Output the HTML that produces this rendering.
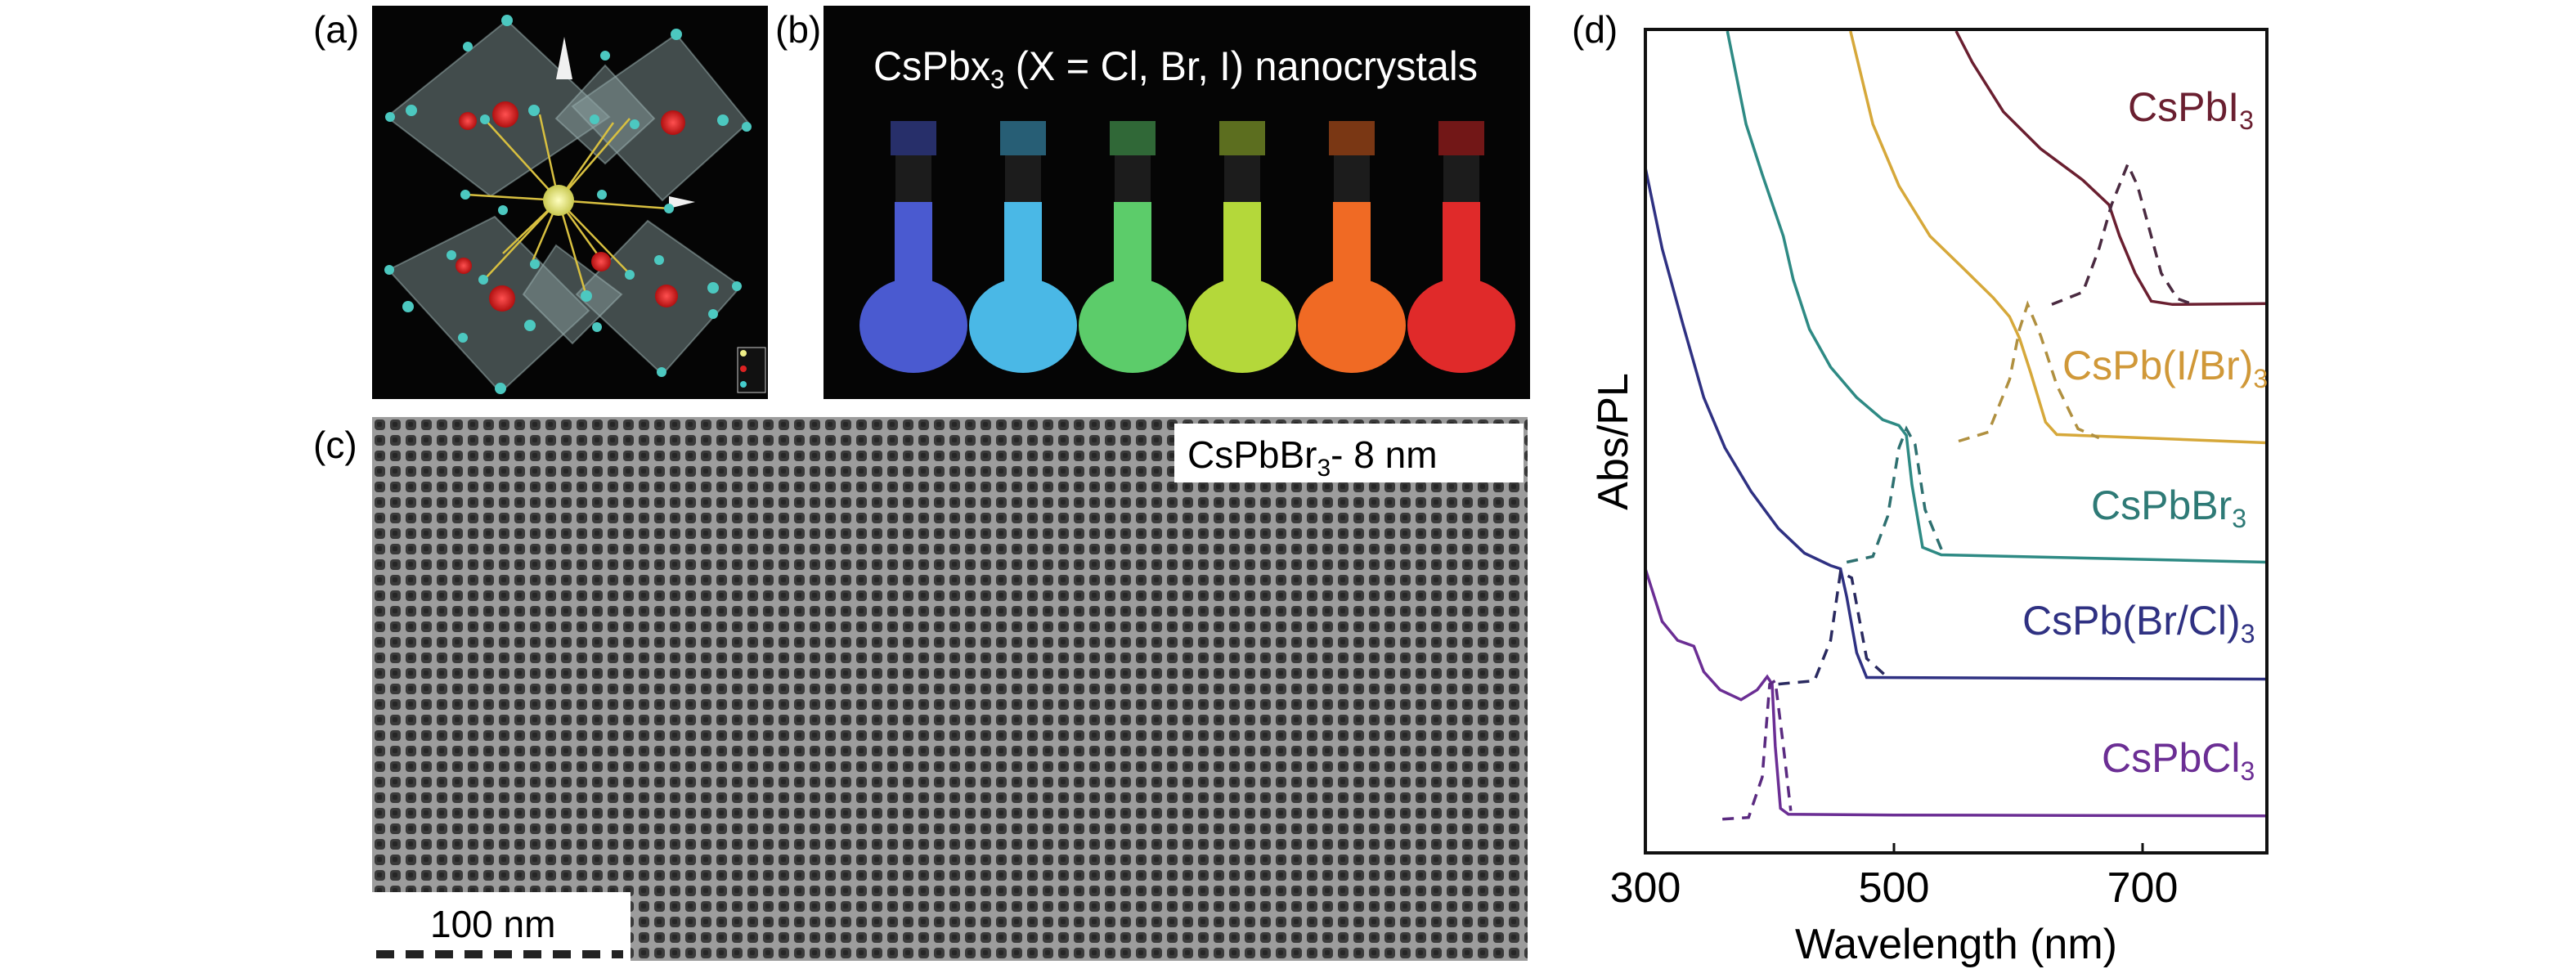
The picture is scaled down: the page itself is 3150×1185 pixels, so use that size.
<!DOCTYPE html>
<html><head><meta charset="utf-8">
<style>
html,body{margin:0;padding:0;background:#fff;}
body{width:3150px;height:1185px;overflow:hidden;}
svg{display:block;font-family:"Liberation Sans","DejaVu Sans",sans-serif;}
</style></head>
<body>
<svg id="fig" width="3150" height="1185" viewBox="0 0 3150 1185">
<defs>
  <pattern id="tem" x="455" y="510" width="19" height="19" patternUnits="userSpaceOnUse">
    <rect width="19" height="19" fill="#9c9c9c"/>
    <rect x="3" y="3" width="13" height="13" rx="4" fill="#3a3a3a"/>
    <rect x="6" y="6" width="6" height="6" rx="2" fill="#262626"/>
  </pattern>
  <radialGradient id="ysph"><stop offset="0" stop-color="#ffffc0"/><stop offset="1" stop-color="#c8c850"/></radialGradient>
  <radialGradient id="rsph"><stop offset="0" stop-color="#ff5050"/><stop offset="1" stop-color="#b01010"/></radialGradient>
</defs>

<text x="383" y="52" font-size="46">(a)</text>
<text x="948" y="52" font-size="46">(b)</text>
<text x="383" y="560" font-size="46">(c)</text>
<text x="1922" y="52" font-size="46">(d)</text>

<g>
  <rect x="455" y="7" width="484" height="481" fill="#050505"/>
  <g fill="#8fa5a5" fill-opacity="0.45" stroke="#9fb5b5" stroke-opacity="0.5" stroke-width="2">
    <polygon points="620,25 745,143 600,240 473,143"/>
    <polygon points="827,42 915,150 810,245 700,130"/>
    <polygon points="740,80 800,145 740,200 680,145"/>
    <polygon points="605,265 720,380 612,480 475,330"/>
    <polygon points="792,270 906,350 810,458 705,360"/>
    <polygon points="680,300 760,360 700,420 640,360"/>
  </g>
  <g stroke="#d8c040" stroke-width="2.5">
    <line x1="683" y1="245" x2="592" y2="145"/><line x1="683" y1="245" x2="660" y2="140"/>
    <line x1="683" y1="245" x2="770" y2="145"/><line x1="683" y1="245" x2="750" y2="150"/>
    <line x1="683" y1="245" x2="570" y2="238"/><line x1="683" y1="245" x2="818" y2="255"/>
    <line x1="683" y1="245" x2="615" y2="310"/><line x1="683" y1="245" x2="592" y2="342"/>
    <line x1="683" y1="245" x2="717" y2="362"/><line x1="683" y1="245" x2="770" y2="335"/>
    <line x1="683" y1="245" x2="650" y2="322"/><line x1="683" y1="245" x2="737" y2="320"/>
  </g>
  <circle cx="683" cy="245" r="19" fill="url(#ysph)"/>
  <polygon points="690,45 700,97 680,97" fill="#f0f0f0"/>
  <polygon points="818,240 850,247 818,255" fill="#f0f0f0"/>
  <g fill="url(#rsph)">
    <circle cx="618" cy="140" r="16"/><circle cx="572" cy="148" r="11"/><circle cx="823" cy="150" r="15"/>
    <circle cx="735" cy="320" r="12"/><circle cx="614" cy="365" r="16"/><circle cx="815" cy="362" r="14"/>
    <circle cx="567" cy="325" r="10"/>
  </g>
  <g fill="#4cc8c0">
    <circle cx="620" cy="25" r="7"/><circle cx="572" cy="57" r="6"/><circle cx="827" cy="42" r="7"/><circle cx="740" cy="68" r="6"/>
    <circle cx="477" cy="143" r="6"/><circle cx="503" cy="135" r="7"/><circle cx="653" cy="135" r="7"/><circle cx="593" cy="146" r="6"/>
    <circle cx="727" cy="146" r="6"/><circle cx="776" cy="152" r="6"/><circle cx="884" cy="147" r="7"/><circle cx="913" cy="155" r="6"/>
    <circle cx="569" cy="238" r="6"/><circle cx="615" cy="257" r="6"/><circle cx="736" cy="238" r="6"/><circle cx="818" cy="255" r="6"/>
    <circle cx="552" cy="312" r="6"/><circle cx="476" cy="330" r="6"/><circle cx="654" cy="323" r="6"/><circle cx="591" cy="342" r="6"/>
    <circle cx="770" cy="336" r="6"/><circle cx="806" cy="318" r="6"/><circle cx="717" cy="362" r="7"/><circle cx="499" cy="375" r="7"/>
    <circle cx="648" cy="398" r="7"/><circle cx="566" cy="413" r="6"/><circle cx="872" cy="352" r="7"/><circle cx="901" cy="350" r="6"/>
    <circle cx="872" cy="384" r="6"/><circle cx="730" cy="400" r="6"/><circle cx="809" cy="455" r="6"/><circle cx="612" cy="475" r="7"/>
  </g>
  <rect x="902" y="425" width="34" height="55" fill="#111" stroke="#ccc" stroke-width="1"/>
  <circle cx="909" cy="432" r="4" fill="#ee8"/><circle cx="909" cy="451" r="4" fill="#d22"/><circle cx="909" cy="470" r="4" fill="#4cc"/>
</g>

<g>
  <rect x="1007" y="7" width="864" height="481" fill="#050505"/>
  <text x="1068" y="98" font-size="50" fill="#fff" textLength="739" lengthAdjust="spacingAndGlyphs">CsPbx<tspan font-size="32" dy="10">3</tspan><tspan dy="-10"> (X = Cl, Br, I) nanocrystals</tspan></text>
  <g id="bottles"></g>
</g>

<g>
  <rect x="455" y="510" width="1413" height="665" fill="url(#tem)"/>
  <rect x="1436" y="518" width="427" height="72" fill="#fff"/>
  <text x="1452" y="572" font-size="46">CsPbBr<tspan font-size="30" dy="10">3</tspan><tspan dy="-10">- 8 nm</tspan></text>
  <rect x="455" y="1091" width="316" height="94" fill="#fff"/>
  <text x="526" y="1146" font-size="46">100 nm</text>
  <line x1="460" y1="1167" x2="762" y2="1167" stroke="#222" stroke-width="10" stroke-dasharray="22,14"/>
</g>

<g id="chart">
  <g id="series"></g>
  <rect x="2012" y="36" width="760" height="1007" fill="none" stroke="#111" stroke-width="4"/>
  <g id="ticks"></g>
  <text x="2392" y="1172" font-size="52" text-anchor="middle">Wavelength (nm)</text>
  <text transform="translate(1990,540) rotate(-90)" font-size="52" text-anchor="middle">Abs/PL</text>
  <g id="labels"></g>
</g>
</svg>
<script>
const xTicks = [300, 500, 700];
const seriesNames = ["CsPbCl3", "CsPb(Br/Cl)3", "CsPbBr3", "CsPb(I/Br)3", "CsPbI3"];
const absCl = [[300,34.5],[313.5,28.1],[326,25.8],[339,25.1],[347,22.0],[360,19.8],[377,18.6],[390,19.8],[398,21.4],[402,20.5],[404.5,13.0],[408.7,5.4],[415,4.7],[500,4.6],[800,4.5]];
const plCl = [[362,4.1],[383,4.3],[394,9.2],[400,20.5],[404.5,20.9],[411,13],[417,5.1]];
const absBrCl = [[300,83.2],[313.5,73.4],[330,64.3],[347,55.3],[364,49.2],[385,43.9],[407,39.4],[428,36.4],[449,34.9],[457,34.5],[462,31.1],[470,24.3],[478,21.3],[800,21.1]];
const plBrCl = [[407,20.5],[436,20.9],[449,25.8],[457,34.1],[466,33.4],[478,23.6],[495,21.3]];
const absBr = [[366,99.8],[381,88.5],[394,82.4],[411,74.9],[419,69.6],[432,63.6],[449,59.0],[470,55.3],[491,52.6],[504,51.9],[510,50.7],[514.5,44.7],[523,37.1],[538,36.2],[800,35.3]];
const plBr = [[462,35.3],[483,36.0],[495,40.9],[504,49.2],[510,51.5],[517,49.6],[525,41.7],[540,36.2]];
const absIBr = [[465,99.8],[483,88.5],[504,81.0],[529,74.9],[555,71.1],[580,67.4],[593,65.1],[601,62.5],[610,58.3],[622,52.3],[631,50.8],[800,49.8]];
const plIBr = [[552,50.0],[576,51.1],[593,57.5],[601,63.6],[607.5,66.6],[618,62.8],[631,56.8],[648,51.5],[665,50.4]];
const absI = [[550,99.8],[563,96.0],[588,90.0],[618,85.5],[652,81.7],[673,78.7],[681.5,74.9],[694,70.4],[707,67.0],[724,66.6],[800,66.7]];
const plI = [[627,66.6],[652,68.1],[665,73.4],[675,78.7],[688,83.6],[696,81],[707,74.9],[715,70.4],[728,67.3],[741,66.6]];
const bottleColors = ["#4a5ad0","#4ab8e6","#5ccc6a","#b4d83a","#f06a24","#e02a2a"];

const NS = "http://www.w3.org/2000/svg";
const X0=2012, XW=760, XMIN=300, XMAX=800, Y0=1043, YH=1007;
function xs(w){return X0+(w-XMIN)/(XMAX-XMIN)*XW;}
function ys(v){return Y0-v/100*YH;}
function pathD(arr){return arr.map((p,i)=>(i?"L":"M")+xs(p[0]).toFixed(1)+","+ys(p[1]).toFixed(1)).join(" ");}

const ser = document.getElementById("series");
const defs = [
  [absCl, plCl, "#6b2e94", "#5a2a80", "cscl"],
  [absBrCl, plBrCl, "#2f3182", "#2a2a60", "csbrcl"],
  [absBr, plBr, "#2e8a84", "#2e7070", "csbr"],
  [absIBr, plIBr, "#d6a83a", "#b09040", "csibr"],
  [absI, plI, "#6a1f30", "#4a2a40", "csi"]
];
defs.forEach(d=>{
  const a=document.createElementNS(NS,"path");
  a.setAttribute("d",pathD(d[0]));a.setAttribute("fill","none");a.setAttribute("stroke",d[2]);a.setAttribute("stroke-width","3.5");
  
  
  ser.appendChild(a);
  const p=document.createElementNS(NS,"path");
  p.setAttribute("d",pathD(d[1]));p.setAttribute("fill","none");p.setAttribute("stroke",d[3]);p.setAttribute("stroke-width","3.5");p.setAttribute("stroke-dasharray","14,10");
  
  
  ser.appendChild(p);
});

const tk=document.getElementById("ticks");
xTicks.forEach(t=>{
  const l=document.createElementNS(NS,"line");
  l.setAttribute("x1",xs(t));l.setAttribute("x2",xs(t));l.setAttribute("y1",Y0);l.setAttribute("y2",Y0-12);l.setAttribute("stroke","#111");l.setAttribute("stroke-width","3");
  
  
  tk.appendChild(l);
  const tx=document.createElementNS(NS,"text");
  tx.setAttribute("x",xs(t));tx.setAttribute("y",1103);tx.setAttribute("font-size","52");tx.setAttribute("text-anchor","middle");
  tx.textContent=t;
  
  
  tk.appendChild(tx);
});

const lbl=document.getElementById("labels");
const labelInfo=[["CsPbCl",2570,944,"#6b2e94"],["CsPb(Br/Cl)",2473,776,"#2f3182"],["CsPbBr",2557,635,"#2e7a76"],["CsPb(I/Br)",2522,464,"#d09838"],["CsPbI",2602,148,"#6a1f30"]];
labelInfo.forEach((L,i)=>{
  const t=document.createElementNS(NS,"text");
  t.setAttribute("x",L[1]);t.setAttribute("y",L[2]);t.setAttribute("font-size","50");t.setAttribute("fill",L[3]);
  t.innerHTML=L[0]+'<tspan font-size="32" dy="10">3</tspan>';
  
  
  lbl.appendChild(t);
});

const bg=document.getElementById("bottles");
bottleColors.forEach((c,i)=>{
  const cx=1117+i*134;
  const g=document.createElementNS(NS,"g");
  
  
  g.innerHTML='<rect x="'+(cx-28)+'" y="148" width="56" height="42" fill="'+c+'" opacity="0.5"/>'+
    '<rect x="'+(cx-22)+'" y="190" width="44" height="58" fill="#1c1c1c"/>'+
    '<rect x="'+(cx-23)+'" y="247" width="46" height="100" fill="'+c+'"/>'+
    '<ellipse cx="'+cx+'" cy="398" rx="66" ry="58" fill="'+c+'"/>';
  bg.appendChild(g);
});
</script>
</body></html>
